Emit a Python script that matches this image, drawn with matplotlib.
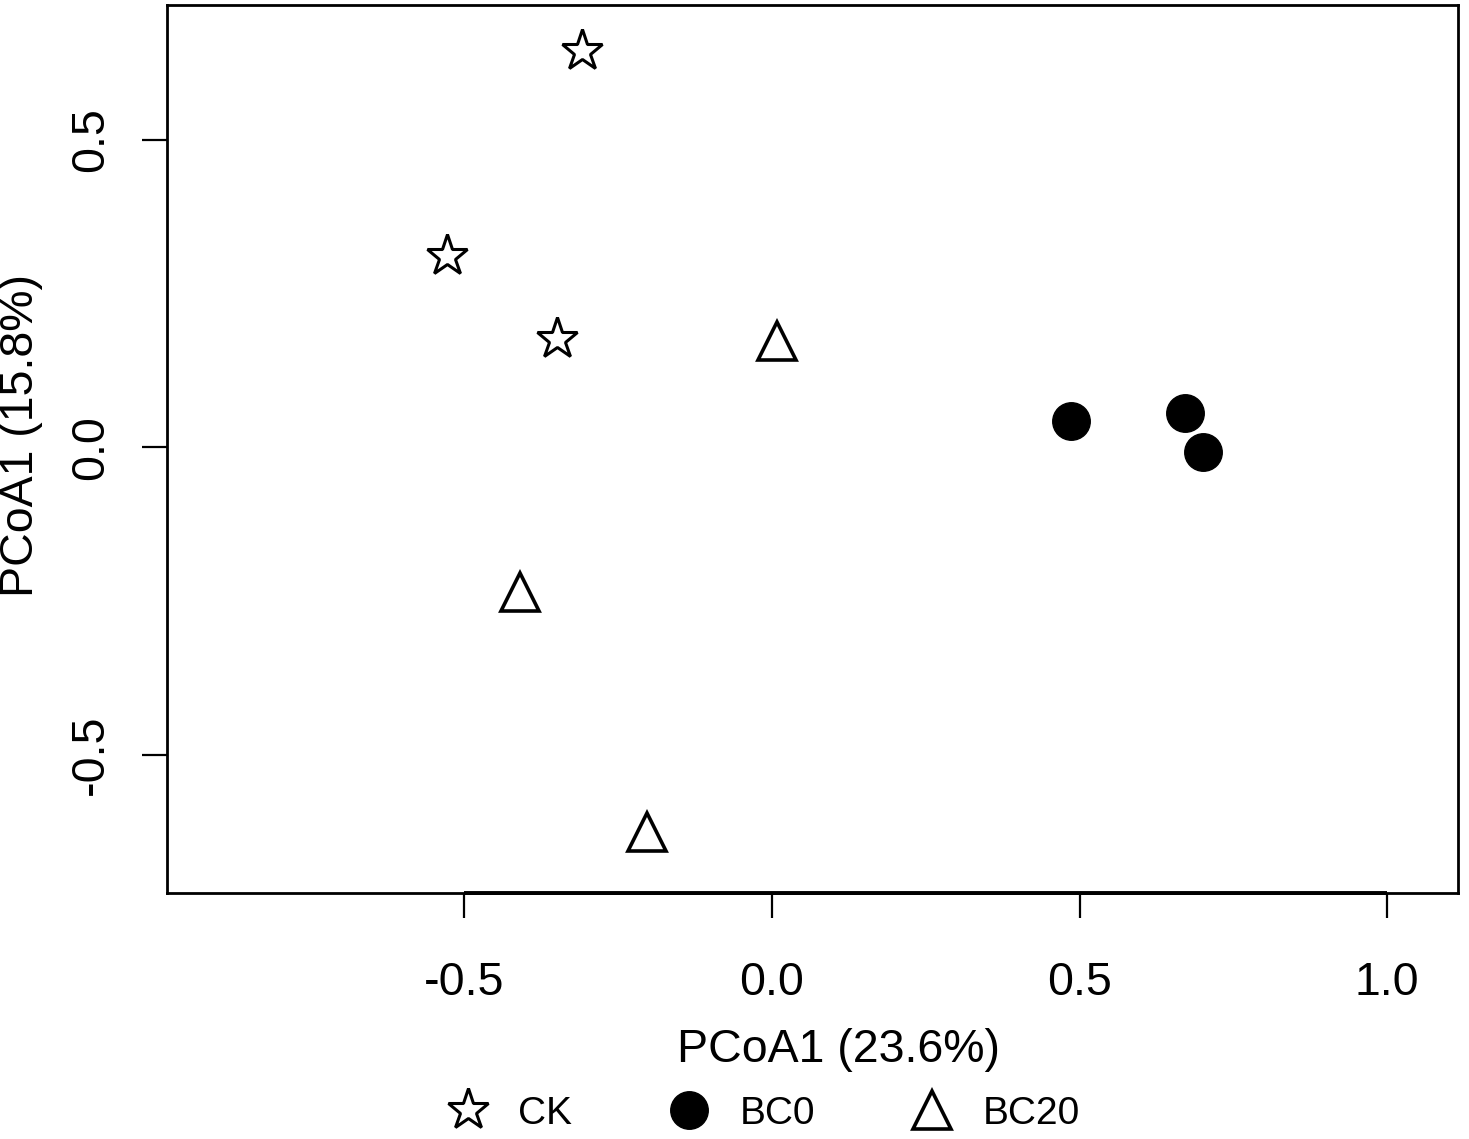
import matplotlib
matplotlib.use("Agg")
import matplotlib.pyplot as plt
from matplotlib.lines import Line2D

plt.rcParams['font.family'] = ['Liberation Sans', 'DejaVu Sans']

groups = ["CK", "BC0", "BC20"]
ck_x = [-0.308, -0.528, -0.349]
ck_y = [0.645, 0.311, 0.176]
bc0_x = [0.486, 0.672, 0.700]
bc0_y = [0.042, 0.055, -0.008]
bc20_x = [0.009, -0.409, -0.203]
bc20_y = [0.173, -0.236, -0.626]

xticks = [-0.5, 0.0, 0.5, 1.0]
yticks = [-0.5, 0.0, 0.5]
xlabel = "PCoA1 (23.6%)"
ylabel = "PCoA1 (15.8%)"

W, H = 1469, 1139
fig = plt.figure(figsize=(W / 100, H / 100), dpi=100)
ax = fig.add_axes([167 / W, 1 - 893 / H, (1458 - 167) / W, (893 - 5) / H])

ax.plot(ck_x, ck_y, linestyle='none', marker='*', markersize=31,
        markerfacecolor='white', markeredgecolor='black', markeredgewidth=2.2, clip_on=False)
ax.plot(bc0_x, bc0_y, linestyle='none', marker='o', markersize=27,
        markerfacecolor='black', markeredgecolor='black', clip_on=False)
ax.plot(bc20_x, bc20_y, linestyle='none', marker='^', markersize=27,
        markerfacecolor='white', markeredgecolor='black', markeredgewidth=2.6, clip_on=False)

xlim = (-0.983, 1.115)
ylim = (-0.725, 0.719)
ax.set_xlim(*xlim)
ax.set_ylim(*ylim)

for s in ax.spines.values():
    s.set_linewidth(2.0)

# R-style x axis line spanning only the tick range
ax.plot([xticks[0], xticks[-1]], [ylim[0], ylim[0]], color='black', lw=2.8, clip_on=False,
        solid_capstyle='butt')

ax.set_xticks(xticks)
ax.set_xticklabels([f"{v:.1f}" for v in xticks])
ax.set_yticks(yticks)
ax.set_yticklabels([f"{v:.1f}" for v in yticks])
ax.tick_params(axis='x', direction='out', length=18, width=1.6, labelsize=33.5, pad=31)
ax.tick_params(axis='y', direction='out', length=18, width=1.6, labelsize=33.5, pad=21)
for lab in ax.get_yticklabels():
    lab.set_rotation(90)
    lab.set_va('center')

ax.set_xlabel(xlabel, fontsize=33.5)
ax.xaxis.set_label_coords(0.52, -0.152)
ax.set_ylabel(ylabel, fontsize=33.5)
ax.yaxis.set_label_coords(-0.096, 0.515)

handles = [
    Line2D([], [], linestyle='none', marker='*', markersize=31, markerfacecolor='white',
           markeredgecolor='black', markeredgewidth=2.2),
    Line2D([], [], linestyle='none', marker='o', markersize=27, markerfacecolor='black',
           markeredgecolor='black'),
    Line2D([], [], linestyle='none', marker='^', markersize=27, markerfacecolor='white',
           markeredgecolor='black', markeredgewidth=2.6),
]
fig.legend(handles, groups, loc='center', bbox_to_anchor=(764 / W, 1 - 1114 / H), ncol=3,
           frameon=False, fontsize=28, handlelength=1.0, handletextpad=0.8,
           columnspacing=2.5, borderaxespad=0, borderpad=0)

fig.savefig("out.png", dpi=100)
